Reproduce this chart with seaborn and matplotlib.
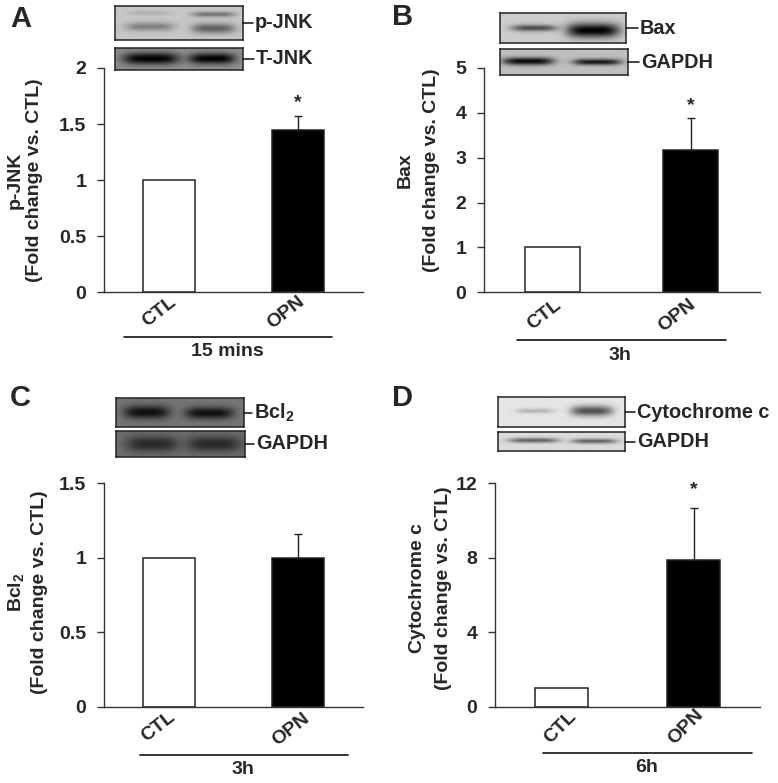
import matplotlib
matplotlib.use("Agg")
import matplotlib.pyplot as plt
import numpy as np
import seaborn as sns

W, H = 778, 783

sns.set_style("ticks")
plt.rcParams['font.family'] = ['Liberation Sans', 'DejaVu Sans']
plt.rcParams['font.weight'] = 'bold'
plt.rcParams['mathtext.fontset'] = 'custom'
plt.rcParams['mathtext.bf'] = 'Liberation Sans:bold'
plt.rcParams['mathtext.rm'] = 'Liberation Sans:bold'

# data
categories = ['CTL', 'OPN']
values_a = [1, 1.45]
values_b = [1, 3.17]
values_c = [1, 1.0]
values_d = [1, 7.9]
errors_a = 0.12
errors_b = 0.71
errors_c = 0.16
errors_d = 2.8
ticks_a = [0, 0.5, 1, 1.5, 2]
ticks_b = [0, 1, 2, 3, 4, 5]
ticks_c = [0, 0.5, 1, 1.5]
ticks_d = [0, 4, 8, 12]

# each band: x centre, half width, y centre, half height, darkness
blots_a = [('p-JNK', 0.78, [(.27, .19, .61, .13, .28), (.27, .17, .20, .07, .09), (.77, .17, .24, .08, .33), (.77, .17, .66, .15, .40)]),
           ('T-JNK', 0.56, [(.28, .22, .48, .27, .56), (.76, .18, .48, .25, .56)])]
blots_b = [('Bax', 0.80, [(.27, .18, .50, .11, .50), (.74, .21, .58, .24, .80)]),
           ('GAPDH', 0.75, [(.22, .20, .47, .15, .72), (.76, .19, .50, .12, .66)])]
blots_c = [('Bcl$_{\\mathbf{2}}$', 0.46, [(.24, .18, .49, .23, .40), (.73, .19, .52, .21, .40)]),
           ('GAPDH', 0.43, [(.28, .20, .50, .31, .27), (.76, .21, .50, .31, .27)])]
blots_d = [('Cytochrome c', 0.90, [(.29, .15, .48, .08, .20), (.74, .165, .48, .17, .58)]),
           ('GAPDH', 0.86, [(.28, .20, .44, .13, .48), (.76, .18, .48, .13, .48)])]

fig = plt.figure(figsize=(W / 100, H / 100), dpi=100, facecolor='w')


def add_px_axes(x0, y0, x1, y1):
    return fig.add_axes([x0 / W, 1 - y1 / H, (x1 - x0) / W, (y1 - y0) / H])


def px_text(x, y, s, **kw):
    kw.setdefault('ha', 'center')
    kw.setdefault('va', 'center')
    kw.setdefault('fontsize', 14)
    fig.text(x / W, 1 - y / H, s, **kw)


def draw_bars(box, values, err, ticks, ymax):
    ax = add_px_axes(*box)
    sns.barplot(x=categories, y=values, hue=categories, palette=['white', 'black'],
                edgecolor='#222222', linewidth=1.1, width=0.4, legend=False, ax=ax)
    ax.errorbar([1], [values[1]], yerr=[[0], [err]], fmt='none', ecolor='#222222',
                elinewidth=1, capsize=2.8, capthick=1)
    ax.set_xlim(-0.5, 1.5)
    ax.set_ylim(0, ymax)
    ax.set_yticks(ticks)
    ax.set_yticklabels(['%g' % t for t in ticks])
    ax.set_xticks([])
    ax.tick_params(axis='y', length=4.7, width=1, color='#333333', labelsize=14, pad=8)
    for s in ['top', 'right']:
        ax.spines[s].set_visible(False)
    for s in ['left', 'bottom']:
        ax.spines[s].set_linewidth(1)
        ax.spines[s].set_color('#333333')
    return ax


def draw_blot(box, background, bands):
    ax = add_px_axes(*box)
    xx, yy = np.meshgrid(np.linspace(0, 1, 260), np.linspace(0, 1, 70))
    img = np.full(xx.shape, background, dtype=float)
    for cx, hw, cy, hh, dark in bands:
        img -= dark * np.exp(-((xx - cx) / hw) ** 4 - ((yy - cy) / hh) ** 2)
    ax.imshow(np.clip(img, 0, 1), cmap='gray', vmin=0, vmax=1, aspect='auto', extent=(0, 1, 1, 0))
    ax.set_xticks([])
    ax.set_yticks([])
    for s in ax.spines.values():
        s.set_linewidth(1.1)
        s.set_color('#222222')
    return ax


def draw_label(box, label, text_x):
    x1 = box[2]
    y = (box[1] + box[3]) / 2
    fig.add_artist(plt.Line2D([x1 / W, (text_x - 2) / W], [1 - y / H, 1 - y / H], color='#111111', lw=1.1))
    px_text(text_x, y, label, ha='left', fontsize=14.3)


def draw_group(x0, x1, y, label, label_y):
    fig.add_artist(plt.Line2D([x0 / W, x1 / W], [1 - y / H, 1 - y / H], color='#111111', lw=1.2))
    px_text((x0 + x1) / 2 - 1 if label_y else x0, label_y, label)


# Panel A
draw_bars((104, 68, 362.7, 292.3), values_a, errors_a, ticks_a, 2)
px_text(21, 19, 'A', fontsize=21)
px_text(15, 180, 'p-JNK', rotation=90)
px_text(35, 180, '(Fold change vs. CTL)', rotation=90)
px_text(159, 312, 'CTL', rotation=38)
px_text(286, 312, 'OPN', rotation=38)
draw_group(124, 332, 336.7, '15 mins', 352)
px_text(298, 103, '*')
for box, (label, bg, bands), text_x in zip([(115.3, 6, 242.7, 39.7), (115.3, 48, 242.7, 69.7)], blots_a, [255, 256]):
    draw_blot(box, bg, bands)
    draw_label(box, label, text_x)

# Panel B
draw_bars((484, 68, 759.7, 292.3), values_b, errors_b, ticks_b, 5)
px_text(403, 17, 'B', fontsize=21)
px_text(405, 170, 'Bax', rotation=90)
px_text(431, 170, '(Fold change vs. CTL)', rotation=90)
px_text(544, 315, 'CTL', rotation=38)
px_text(677, 315, 'OPN', rotation=38)
draw_group(517, 725.7, 340, '3h', 355.7)
px_text(691, 106, '*')
for box, (label, bg, bands), text_x in zip([(500.3, 13, 625.7, 43), (500.3, 49.3, 628.3, 74.7)], blots_b, [640, 641]):
    draw_blot(box, bg, bands)
    draw_label(box, label, text_x)

# Panel C
draw_bars((104, 483.3, 362.7, 706.7), values_c, errors_c, ticks_c, 1.5)
px_text(20, 398, 'C', fontsize=21)
px_text(17, 592, 'Bcl$_{\\mathbf{2}}$', rotation=90)
px_text(40, 592, '(Fold change vs. CTL)', rotation=90)
px_text(158, 727, 'CTL', rotation=38)
px_text(291, 729, 'OPN', rotation=38)
draw_group(140, 348, 755, '3h', 769)
for box, (label, bg, bands), text_x in zip([(116.3, 398.3, 244, 426.7), (116.3, 430.7, 244.7, 456.7)], blots_c, [254, 256]):
    draw_blot(box, bg, bands)
    draw_label(box, label, text_x)

# Panel D
draw_bars((495, 483.3, 759.7, 706.7), values_d, errors_d, ticks_d, 12)
px_text(403, 398, 'D', fontsize=21)
px_text(418, 588, 'Cytochrome c', rotation=90)
px_text(443, 588, '(Fold change vs. CTL)', rotation=90)
px_text(560, 727, 'CTL', rotation=45)
px_text(686, 727, 'OPN', rotation=45)
draw_group(543, 751.7, 753.3, '6h', 767)
px_text(694, 490, '*')
for box, (label, bg, bands), text_x in zip([(498.3, 396.7, 625, 427.3), (498.3, 432.3, 625, 451.3)], blots_d, [637, 637]):
    draw_blot(box, bg, bands)
    draw_label(box, label, text_x)

fig.savefig('out.png', dpi=100)
plt.close(fig)
